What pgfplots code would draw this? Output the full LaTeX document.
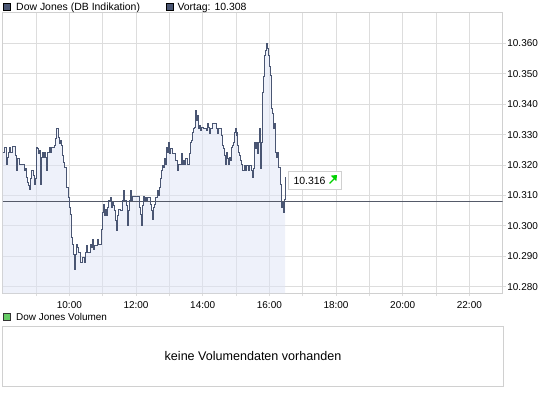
\documentclass[border=0pt]{standalone}
\usepackage{fontspec}
\setmainfont{Liberation Sans}
\usepackage{pgfplots}
\usepackage{pgfplotstable}
\pgfplotsset{compat=1.18}
\definecolor{linec}{RGB}{74,86,115}
\definecolor{fillc}{RGB}{221,227,245}
\definecolor{gridc}{RGB}{221,221,221}
\definecolor{borderc}{RGB}{208,208,208}
\definecolor{vortagc}{RGB}{85,90,105}
\definecolor{volc}{RGB}{102,204,102}
\definecolor{arrowc}{RGB}{0,210,0}
\pgfplotstableread{
t v
8.000 10.3242
8.018 10.3242
8.048 10.3258
8.090 10.3258
8.108 10.3203
8.138 10.3225
8.168 10.3240
8.198 10.3258
8.240 10.3240
8.288 10.3261
8.360 10.3261
8.378 10.3231
8.420 10.3181
8.450 10.3220
8.489 10.3203
8.618 10.3203
8.639 10.3181
8.669 10.3187
8.699 10.3159
8.738 10.3143
8.780 10.3132
8.810 10.3119
8.840 10.3154
8.870 10.3181
8.918 10.3165
8.948 10.3137
8.990 10.3154
9.020 10.3258
9.050 10.3253
9.080 10.3237
9.098 10.3247
9.128 10.3137
9.158 10.3225
9.188 10.3242
9.218 10.3225
9.248 10.3242
9.290 10.3225
9.320 10.3181
9.350 10.3242
9.389 10.3258
9.440 10.3242
9.470 10.3258
9.518 10.3258
9.548 10.3264
9.578 10.3286
9.620 10.3319
9.659 10.3291
9.689 10.3270
9.719 10.3280
9.749 10.3264
9.779 10.3231
9.818 10.3209
9.860 10.3192
9.899 10.3181
9.920 10.3126
9.959 10.3093
9.989 10.3060
10.019 10.3038
10.049 10.2961
10.079 10.2939
10.109 10.2906
10.139 10.2857
10.169 10.2906
10.199 10.2939
10.229 10.2928
10.268 10.2911
10.319 10.2878
10.370 10.2878
10.400 10.2895
10.439 10.2878
10.469 10.2911
10.499 10.2934
10.538 10.2911
10.580 10.2911
10.619 10.2939
10.649 10.2928
10.679 10.2956
10.718 10.2923
10.760 10.2934
10.799 10.2934
10.838 10.2956
10.880 10.2939
10.919 10.2939
10.970 10.2989
11.000 10.3044
11.030 10.3071
11.060 10.3033
11.090 10.3055
11.120 10.3033
11.150 10.3060
11.180 10.3082
11.219 10.3093
11.249 10.3060
11.288 10.3077
11.318 10.3066
11.348 10.3049
11.378 10.3016
11.408 10.2983
11.438 10.3033
11.480 10.3055
11.519 10.3049
11.558 10.3049
11.600 10.3082
11.630 10.3115
11.660 10.3082
11.699 10.3066
11.729 10.3000
11.759 10.3049
11.789 10.3082
11.819 10.3115
11.849 10.3082
11.879 10.3095
12.068 10.3095
12.098 10.3060
12.128 10.3038
12.149 10.3000
12.179 10.3066
12.209 10.3095
12.239 10.3082
12.269 10.3093
12.320 10.3082
12.350 10.3093
12.428 10.3071
12.458 10.3049
12.488 10.3022
12.518 10.3060
12.548 10.3071
12.590 10.3093
12.629 10.3115
12.668 10.3099
12.710 10.3126
12.740 10.3154
12.770 10.3181
12.800 10.3198
12.830 10.3192
12.860 10.3220
12.890 10.3203
12.920 10.3258
12.950 10.3242
12.980 10.3275
13.010 10.3237
13.040 10.3253
13.100 10.3237
13.139 10.3237
13.169 10.3214
13.208 10.3214
13.238 10.3181
13.268 10.3203
13.319 10.3203
13.349 10.3238
13.388 10.3203
13.418 10.3214
13.448 10.3203
13.490 10.3220
13.529 10.3203
13.568 10.3203
13.598 10.3237
13.628 10.3275
13.658 10.3280
13.688 10.3308
13.718 10.3319
13.748 10.3324
13.769 10.3380
13.799 10.3347
13.829 10.3363
13.859 10.3319
13.889 10.3330
13.919 10.3313
13.970 10.3324
14.018 10.3319
14.069 10.3319
14.099 10.3313
14.129 10.3336
14.159 10.3324
14.189 10.3303
14.219 10.3319
14.258 10.3319
14.300 10.3336
14.390 10.3336
14.420 10.3319
14.450 10.3303
14.480 10.3319
14.519 10.3319
14.549 10.3297
14.579 10.3264
14.618 10.3253
14.648 10.3231
14.678 10.3203
14.708 10.3242
14.738 10.3220
14.768 10.3203
14.798 10.3225
14.828 10.3214
14.858 10.3258
14.900 10.3264
14.930 10.3275
14.960 10.3308
14.978 10.3319
14.999 10.3297
15.020 10.3308
15.050 10.3264
15.080 10.3242
15.110 10.3231
15.140 10.3214
15.170 10.3203
15.200 10.3181
15.239 10.3198
15.269 10.3181
15.320 10.3198
15.359 10.3181
15.398 10.3198
15.440 10.3198
15.470 10.3181
15.500 10.3159
15.530 10.3187
15.560 10.3275
15.590 10.3253
15.620 10.3275
15.650 10.3237
15.680 10.3275
15.710 10.3319
15.728 10.3187
15.758 10.3275
15.779 10.3440
15.809 10.3490
15.839 10.3539
15.860 10.3561
15.890 10.3578
15.920 10.3600
15.950 10.3583
15.980 10.3561
15.998 10.3523
16.028 10.3495
16.049 10.3429
16.070 10.3385
16.088 10.3369
16.109 10.3319
16.139 10.3336
16.169 10.3308
16.190 10.3242
16.220 10.3225
16.250 10.3242
16.268 10.3192
16.298 10.3192
16.328 10.3137
16.349 10.3110
16.370 10.3060
16.400 10.3077
16.418 10.3044
16.448 10.3088
16.469 10.3159
}\price
\begin{document}
\begin{tikzpicture}
\useasboundingbox (0,0) rectangle (545bp,-395bp);
\begin{axis}[
  at={(2.7bp,-293.3bp)}, anchor=south west,
  scale only axis, width=500bp, height=280.3bp,
  xmin=8, xmax=23, ymin=10.2778, ymax=10.370,
  axis line style={draw=borderc, line width=1bp},
  xtick={10,12,14,16,18,20,22},
  minor xtick={9,11,13,15,17,19,21},
  xticklabels={10:00,12:00,14:00,16:00,18:00,20:00,22:00},
  ytick={10.28,10.29,10.30,10.31,10.32,10.33,10.34,10.35,10.36},
  grid=both,
  major grid style={draw=gridc, line width=1bp},
  minor grid style={draw=gridc, line width=1bp},
  tick align=outside, major tick length=3bp, minor tick length=3bp,
  tick style={draw=gridc, line width=1bp},
  minor tick style={draw=gridc, line width=1bp},
  xtick pos=bottom, ytick pos=right, yticklabel pos=right,
  /pgf/number format/assume math mode=true,
  yticklabel style={/pgf/number format/.cd, fixed, fixed zerofill, precision=3, /tikz/.cd, anchor=west, inner sep=0pt, xshift=1.5bp},
  xticklabel style={inner sep=0pt, yshift=-5bp},
  ticklabel style={font=\fontsize{10}{12}\selectfont, text=black},
  clip=true,
]
\addplot[fill=fillc, fill opacity=0.5, draw=none, const plot] table[x=t,y=v]{\price} \closedcycle;
\addplot[vortagc, line width=1bp] coordinates {(8,10.308) (23,10.308)};
\addplot[linec, line width=1bp, const plot] table[x=t,y=v]{\price};
\end{axis}
\begin{axis}[
  at={(2.7bp,-386bp)}, anchor=south west,
  scale only axis, width=500.6bp, height=59.3bp,
  xmin=0, xmax=1, ymin=0, ymax=1,
  axis line style={draw=borderc, line width=1bp},
  xtick=\empty, ytick=\empty,
]
\addplot[draw=none] coordinates {(0,0) (1,1)};
\node at (axis cs:0.5,0.5) {\fontsize{12.6}{14}\selectfont keine Volumendaten vorhanden};
\end{axis}
% header
\filldraw[fill=linec, draw=black, line width=0.8bp] (3.6bp,-2.9bp) rectangle (10.8bp,-10.1bp);
\node[anchor=base west, inner sep=0pt] at (16bp,-10bp) {\fontsize{10.5}{12}\selectfont Dow Jones (DB Indikation)};
\filldraw[fill=linec, draw=black, line width=0.8bp] (166bp,-2.9bp) rectangle (173.2bp,-10.1bp);
\node[anchor=base west, inner sep=0pt] at (177.3bp,-10bp) {\fontsize{10.5}{12}\selectfont Vortag: 10.308};
% volume header
\filldraw[fill=volc, draw=black!80, line width=0.8bp] (3.6bp,-313.5bp) rectangle (10.8bp,-320.7bp);
\node[anchor=base west, inner sep=0pt] at (16bp,-320.7bp) {\fontsize{10}{12}\selectfont Dow Jones Volumen};
% last value box
\filldraw[fill=white, draw=borderc, line width=1bp] (288.3bp,-171.7bp) rectangle (341.7bp,-189.3bp);
\node[anchor=base west, inner sep=0pt] at (293.3bp,-184bp) {\fontsize{10.5}{12}\selectfont 10.316};
\draw[arrowc, line width=1.4bp] (329.5bp,-183.5bp) -- (334.5bp,-178.5bp);
\fill[arrowc] (337bp,-175bp) -- (330.8bp,-175.6bp) -- (336.4bp,-181.2bp) -- cycle;
\end{tikzpicture}
\end{document}
